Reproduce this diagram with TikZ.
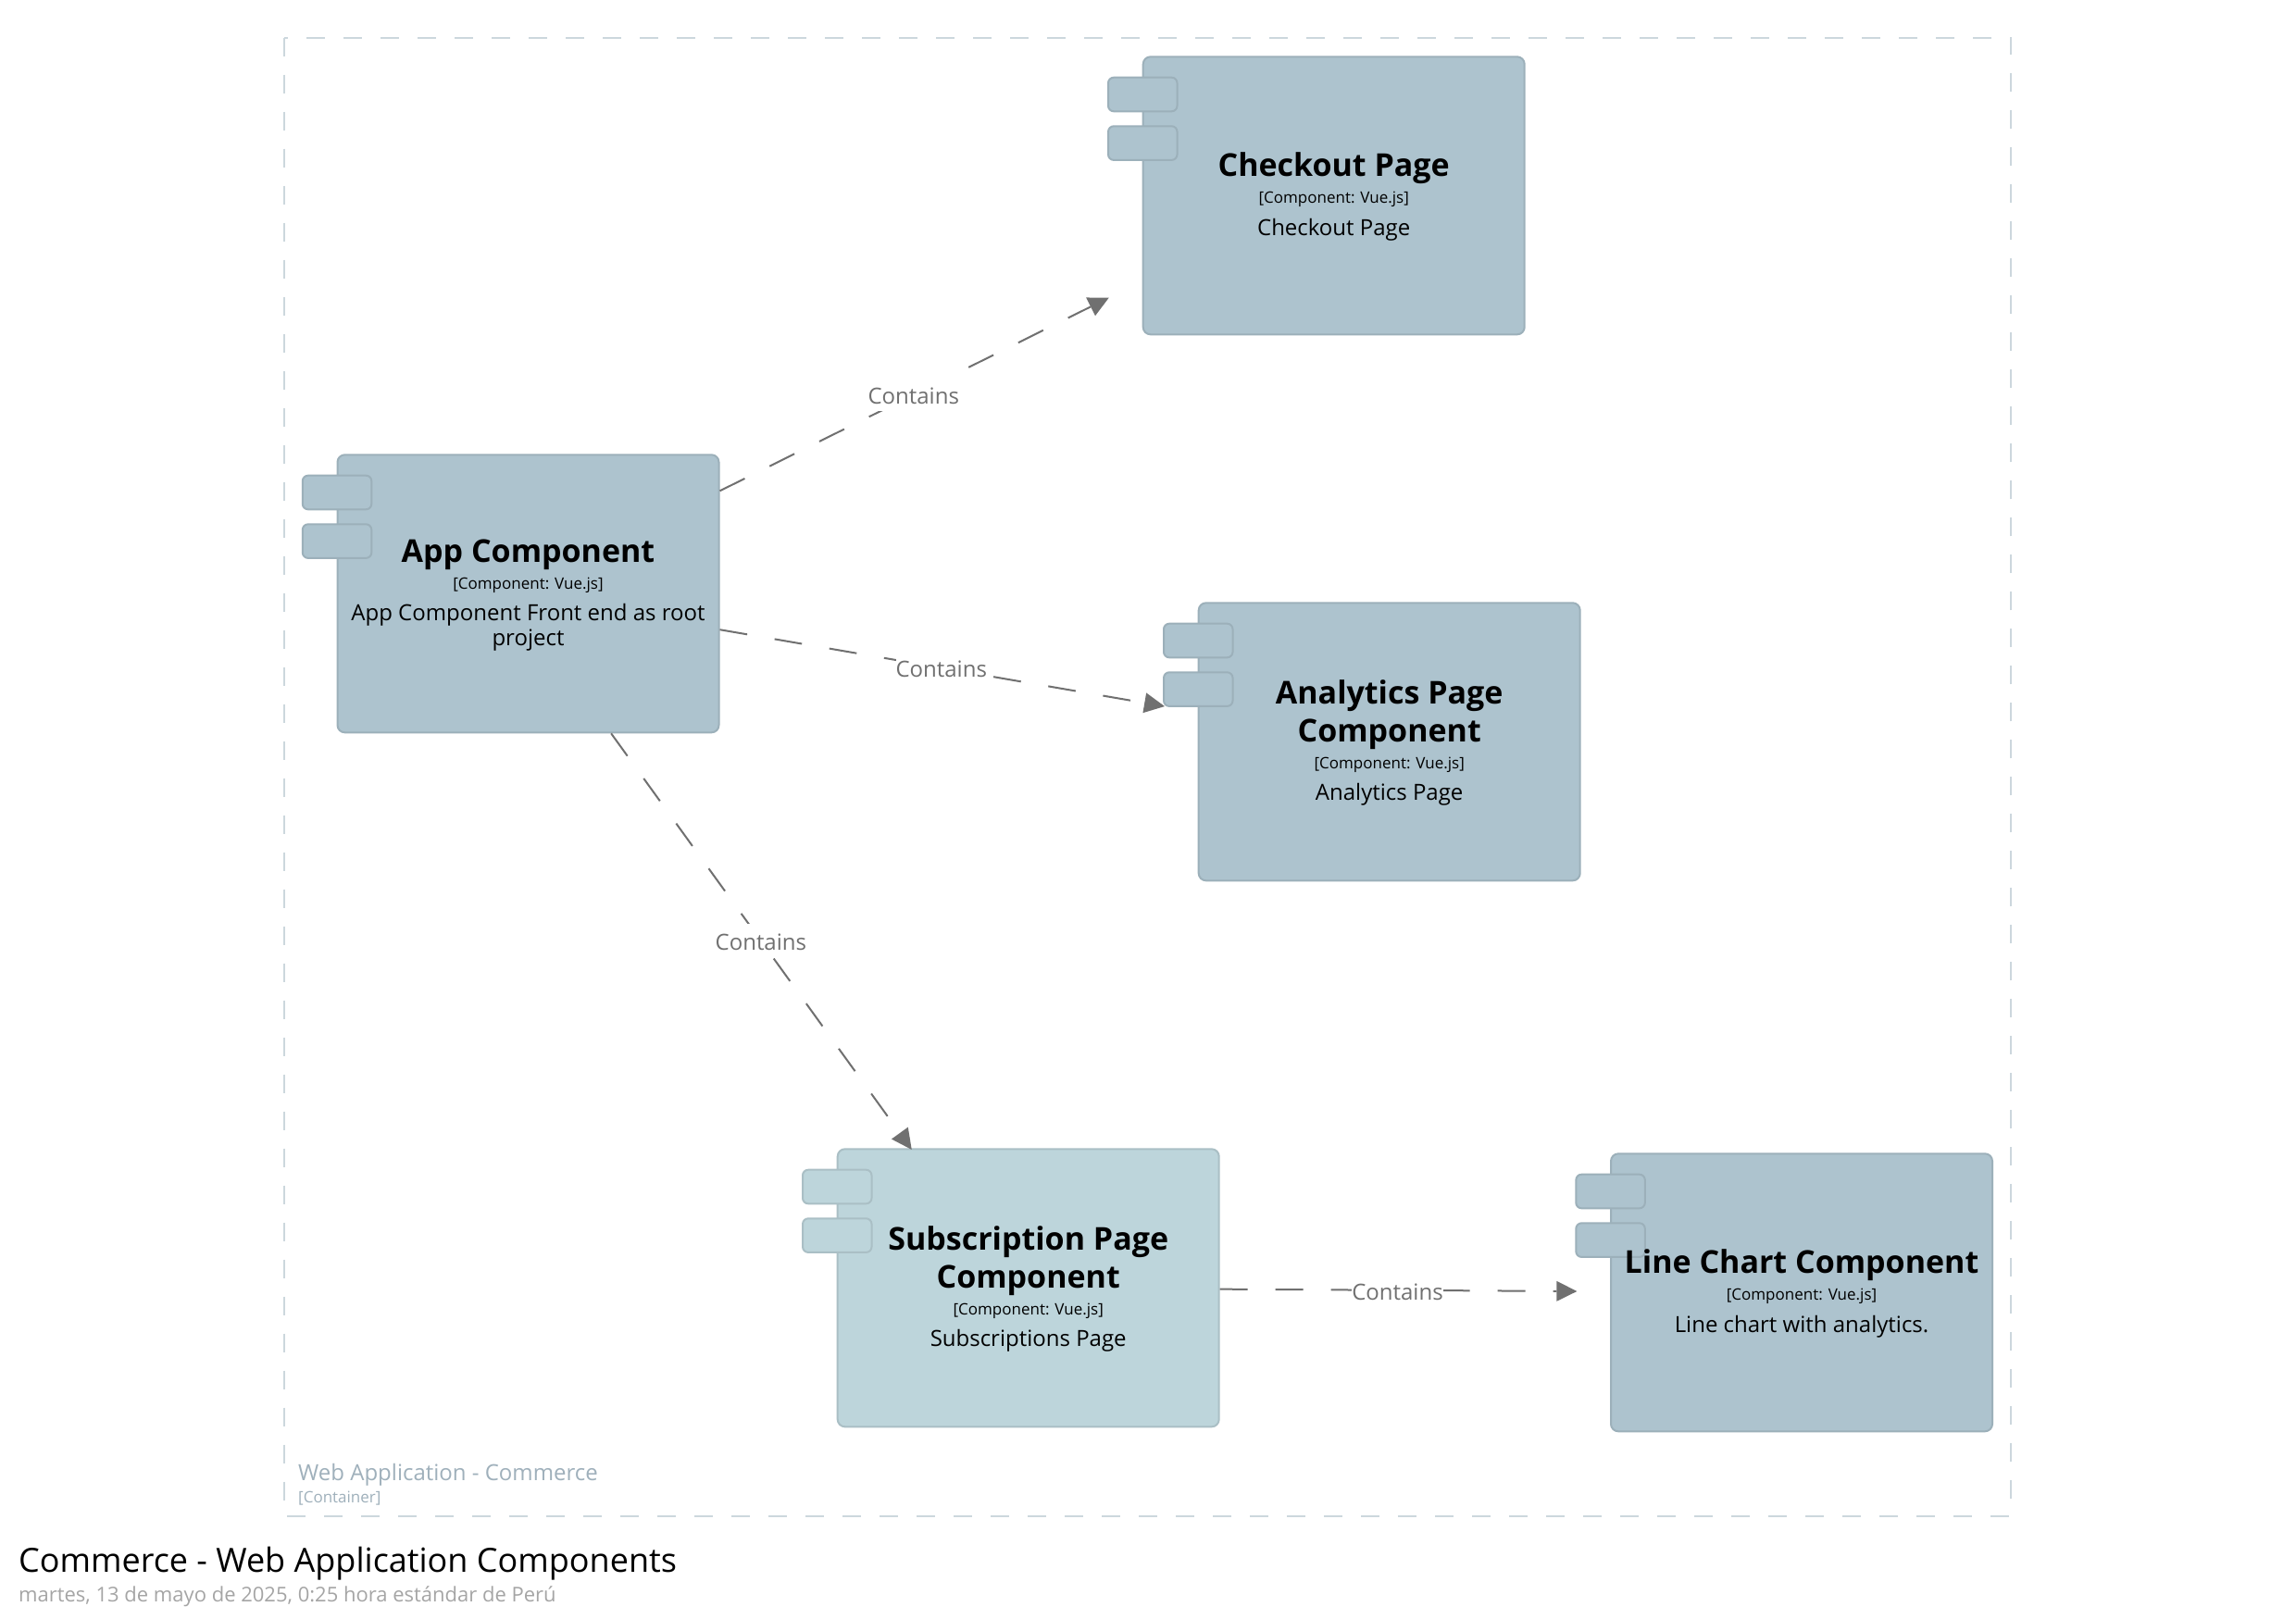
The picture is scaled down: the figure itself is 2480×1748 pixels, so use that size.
\documentclass[tikz,border=0pt]{standalone}
\usepackage{fontspec}
\setmainfont{Open Sans}
\usetikzlibrary{arrows.meta}
\definecolor{bodyblue}{HTML}{ADC3CE}
\definecolor{bodyline}{HTML}{9CB0BA}
\definecolor{subfill}{HTML}{BDD5DB}
\definecolor{subline}{HTML}{AABFC5}
\definecolor{linkgrey}{HTML}{707070}
\definecolor{frameline}{HTML}{CCD7DD}
\definecolor{framelabel}{HTML}{9FB0BB}
\definecolor{dategrey}{HTML}{A5A5A5}
\tikzset{
  x=1pt,y=-1pt,
  body/.style={draw,line width=2pt,rounded corners=8pt,anchor=north west,inner sep=0pt,outer sep=0pt},
  tab/.style={body,rounded corners=6pt,minimum width=74.5pt,minimum height=36.6pt},
  extent/.style={anchor=north west,inner sep=0pt,outer sep=0pt,draw=none},
  desc/.style={anchor=center,align=flush center,inner sep=0pt,text=black},
  link/.style={draw=linkgrey,line width=2pt,dash pattern=on 30pt off 30pt,shorten >=-2pt,-{Triangle[length=22pt,width=22pt,fill=linkgrey,line width=0pt]}},
  linklabel/.style={midway,fill=white,inner sep=0pt,text height=28.5pt,text depth=7.5pt,text=linkgrey,font=\fontsize{24}{28}\selectfont},
}
\newcommand{\compbox}[8]{% name, x, y, w, h, fill, line, text
  \pgfmathsetmacro{\ew}{#4+39.7}
  \pgfmathsetmacro{\eh}{#5+2}
  \node[extent,minimum width=\ew pt,minimum height=\eh pt] (#1) at (#2-38.7,#3-1) {};
  \node[body,fill=#6,draw=#7,minimum width=#4pt,minimum height=#5pt] (#1-body) at (#2,#3) {};
  \node[tab,fill=#6,draw=#7] (#1-tabA) at (#2-37.7,#3+22.4) {};
  \node[tab,fill=#6,draw=#7] (#1-tabB) at (#2-37.7,#3+75) {};
  \node[desc,text width=#4pt-14pt] (#1-text) at (#2+#4/2,#3+#5/2) {#8};
}
\newcommand{\comptext}[3]{%
  {\fontsize{34}{41}\selectfont\bfseries\rule{0pt}{28pt}#1\par}%
  {\fontsize{17}{29}\selectfont #2\par}\vspace{6.8pt}%
  {\fontsize{24}{27.5}\selectfont #3\rule[-4pt]{0pt}{4pt}\par}}
\begin{document}
\begin{tikzpicture}
\useasboundingbox (0,0) rectangle (2480,1748);
\fill[white] (0,0) rectangle (2480,1748);
\coordinate (frameA) at (307,40.7);
\coordinate (frameB) at (2172,1637.5);
\draw[frameline,line width=2pt,dash pattern=on 20pt off 20pt] (frameA) rectangle (frameB);
\compbox{app}{364.5}{491.3}{412}{300}{bodyblue}{bodyline}{\comptext{App Component}{[Component: Vue.js]}{App Component Front end as root project}}
\compbox{checkout}{1234.7}{61.3}{412}{300}{bodyblue}{bodyline}{\comptext{Checkout Page}{[Component: Vue.js]}{Checkout Page}}
\compbox{analytics}{1294.7}{651.3}{412}{300}{bodyblue}{bodyline}{\comptext{Analytics Page Component}{[Component: Vue.js]}{Analytics Page}}
\compbox{subscription}{904.7}{1241.3}{412}{300}{subfill}{subline}{\comptext{Subscription Page Component}{[Component: Vue.js]}{Subscriptions Page}}
\compbox{linechart}{1740}{1246.3}{412}{300}{bodyblue}{bodyline}{\comptext{Line Chart Component}{[Component: Vue.js]}{Line chart with analytics.}}
\draw[link] (app) -- node[linklabel] {Contains} (checkout);
\draw[link] (app) -- node[linklabel] {Contains} (analytics);
\draw[link] (app) -- node[linklabel] {Contains} (subscription);
\draw[link] (subscription) -- node[linklabel] {Contains} (linechart);
\node[anchor=base west,inner sep=0pt,text=framelabel,font=\fontsize{24}{28}\selectfont] (framename) at (322,1599) {Web Application - Commerce};
\node[anchor=base west,inner sep=0pt,text=framelabel,font=\fontsize{17}{20}\selectfont] (framekind) at (322,1623) {[Container]};
\node[anchor=base west,inner sep=0pt,text=black,font=\fontsize{36}{42}\selectfont] (title) at (20,1698) {Commerce - Web Application Components};
\node[anchor=base west,inner sep=0pt,text=dategrey,font=\fontsize{22}{28}\selectfont] (date) at (20,1730) {martes, 13 de mayo de 2025, 0:25 hora estándar de Perú};
\end{tikzpicture}
\end{document}
